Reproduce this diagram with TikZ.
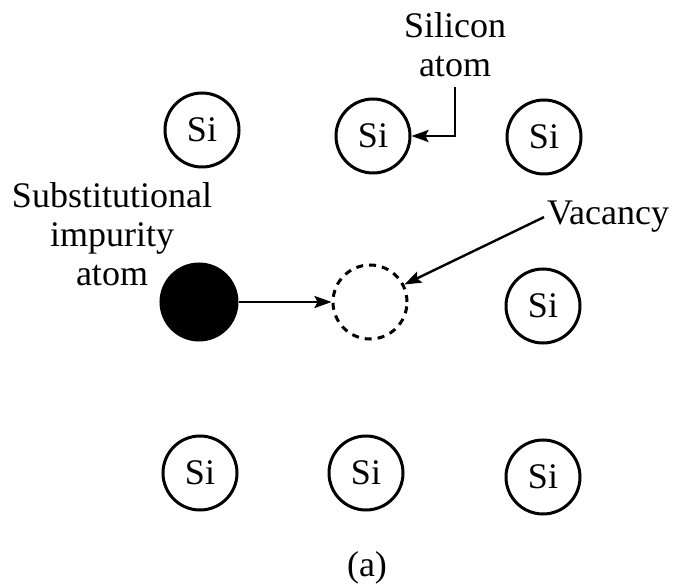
\documentclass[tikz,border=0pt]{standalone}
\usepackage{fontspec}
\setmainfont{Liberation Serif}
\usetikzlibrary{arrows.meta}

\tikzset{
    atom/.style={circle,draw,line width=3pt,minimum size=74pt,inner sep=0pt},
    lbl/.style={align=center,inner sep=0pt},
    pointer/.style={line width=2.4pt,-{Stealth[length=17pt,width=12pt,inset=3pt]}}
}

\begin{document}
\begin{tikzpicture}[x=1pt,y=-1pt,font=\fontsize{36}{39}\selectfont]
    \useasboundingbox (0,0) rectangle (678,585);
    % silicon lattice
    \node[atom] (s11) at (202,130) {Si};
    \node[atom] (s12) at (373,136) {Si};
    \node[atom] (s13) at (544,137) {Si};
    \node[atom] (s23) at (543,306) {Si};
    \node[atom] (s31) at (200,473) {Si};
    \node[atom] (s32) at (366,473) {Si};
    \node[atom] (s33) at (543,477) {Si};
    % impurity and vacancy
    \node[atom,fill=black,minimum size=76pt] (imp) at (199,302) {};
    \node[atom,dash pattern=on 7pt off 6pt] (vac) at (370,302) {};
    % labels
    \node[lbl] (silab) at (455,45) {Silicon\\atom};
    \node[lbl] (sublab) at (112,234) {Substitutional\\impurity\\atom};
    \node[lbl,anchor=base west] (vaclab) at (547,225) {Vacancy};
    \node[lbl] (cap) at (367,568) {(a)};
    % arrows
    \draw[pointer] ([yshift=-10pt]silab.south) |- (s12.east);
    \draw[pointer] (imp.east) -- (vac.west);
    \draw[pointer] ([xshift=-3pt]vaclab.west) -- (vac.27);
\end{tikzpicture}
\end{document}
